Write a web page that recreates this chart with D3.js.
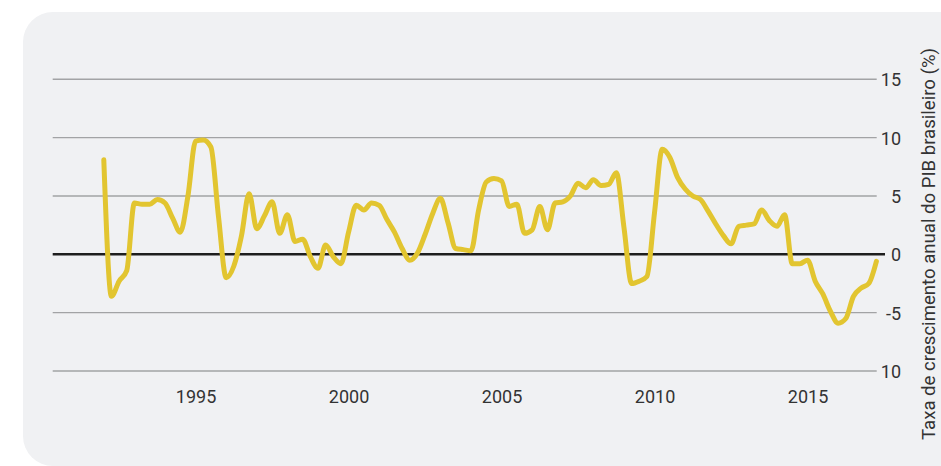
<!DOCTYPE html>
<html>
<head>
<meta charset="utf-8">
<script src="https://cdn.jsdelivr.net/npm/d3@7"></script>
<style>
  html, body { margin: 0; padding: 0; background: #ffffff; }
  svg { display: block; }
  text { font-family: Roboto, "Noto Sans", sans-serif; fill: #333333; }
</style>
</head>
<body>
<svg id="chart" width="941" height="466"></svg>
<script>
// ---- data (quarterly) ----
const startYear = 1992;
const growth = [
  8.1, -3.6, -2.3, -1.4,   // 1992
  4.4,  4.3,  4.3,  4.7,   // 1993
  4.4,  3.1,  1.9,  5.0,   // 1994
  9.7,  9.8,  9.2,  3.2,   // 1995
 -2.0, -1.0,  1.6,  5.2,   // 1996
  2.2,  3.3,  4.5,  1.8,   // 1997
  3.4,  1.1,  1.3, -0.2,   // 1998
 -1.2,  0.8, -0.2, -0.8,   // 1999
  1.9,  4.2,  3.8,  4.4,   // 2000
  4.2,  3.0,  1.9,  0.5,   // 2001
 -0.5,  0.1,  1.7,  3.5,   // 2002
  4.8,  2.7,  0.5,  0.4,   // 2003
  0.3,  3.8,  6.2,  6.5,   // 2004
  6.3,  4.1,  4.3,  1.8,   // 2005
  2.1,  4.1,  2.1,  4.4,   // 2006
  4.5,  5.0,  6.1,  5.7,   // 2007
  6.4,  5.9,  6.0,  7.0,   // 2008
  2.3, -2.5, -2.3, -1.9,   // 2009
  3.6,  9.0,  8.3,  6.6,   // 2010
  5.6,  5.0,  4.7,  3.7,   // 2011
  2.6,  1.6,  0.9,  2.4,   // 2012
  2.5,  2.6,  3.8,  2.9,   // 2013
  2.4,  3.4, -0.8, -0.8,   // 2014
 -0.5, -2.3, -3.4, -4.9,   // 2015
 -5.9, -5.5, -3.6, -2.9,   // 2016
 -2.5, -0.6               // 2017
];
const xTicks = [1995, 2000, 2005, 2010, 2015];
const yTicks = [15, 10, 5, 0, -5, -10];
const yTickLabels = ["15", "10", "5", "0", "-5", "10"];
const yTitle = "Taxa de crescimento anual do PIB brasileiro (%)";

// ---- layout ----
const svg = d3.select("#chart");

svg.append("rect")
  .attr("x", 23).attr("y", 12)
  .attr("width", 1000).attr("height", 454)
  .attr("rx", 30).attr("ry", 30)
  .attr("fill", "#f0f1f3");

const x = d3.scaleLinear().domain([1990.33, 2017.26]).range([52.7, 876.7]);
const y = d3.scaleLinear().domain([-10, 15]).range([371, 79.3]);

const data = growth.map((v, i) => ({ t: startYear + i / 4, v }));

// gridlines
const grid = svg.append("g");
grid.selectAll("line")
  .data(yTicks.filter(d => d !== 0))
  .join("line")
  .attr("x1", x.range()[0]).attr("x2", x.range()[1])
  .attr("y1", d => y(d)).attr("y2", d => y(d))
  .attr("stroke", "#a2a3a5")
  .attr("stroke-width", 1.4);

// y axis labels (right side)
const yAxis = d3.axisRight(y)
  .tickValues(yTicks)
  .tickSize(0)
  .tickFormat((d, i) => yTickLabels[i]);
const gy = svg.append("g").attr("transform", "translate(901,0)").call(yAxis);
gy.select(".domain").remove();
gy.selectAll("text")
  .attr("x", 0)
  .attr("text-anchor", "end")
  .attr("dy", "0.36em")
  .style("font-size", "18px")
  .style("font-family", "Roboto, sans-serif")
  .attr("fill", "#333");

// x axis labels
const xAxis = d3.axisBottom(x)
  .tickValues(xTicks)
  .tickSize(0)
  .tickFormat(d3.format("d"));
const gx = svg.append("g").attr("transform", "translate(0,390)").call(xAxis);
gx.select(".domain").remove();
gx.selectAll("text")
  .attr("y", 0)
  .attr("dy", "0.71em")
  .style("font-size", "18px")
  .style("font-family", "Roboto, sans-serif")
  .attr("fill", "#333");

// zero line
svg.append("line")
  .attr("x1", x.range()[0]).attr("x2", 885)
  .attr("y1", y(0)).attr("y2", y(0))
  .attr("stroke", "#1e1e1e")
  .attr("stroke-width", 2.4);

// data line
const line = d3.line()
  .x(d => x(d.t))
  .y(d => y(d.v))
  .curve(d3.curveMonotoneX);

svg.append("path")
  .datum(data)
  .attr("d", line)
  .attr("fill", "none")
  .attr("stroke", "#e2c530")
  .attr("stroke-width", 5)
  .attr("stroke-linejoin", "round")
  .attr("stroke-linecap", "round");

// axis title (rotated)
svg.append("text")
  .attr("transform", "translate(935,244) rotate(-90)")
  .attr("text-anchor", "middle")
  .attr("textLength", 392)
  .attr("lengthAdjust", "spacingAndGlyphs")
  .style("font-size", "18px")
  .attr("fill", "#333")
  .text(yTitle);
</script>
</body>
</html>
